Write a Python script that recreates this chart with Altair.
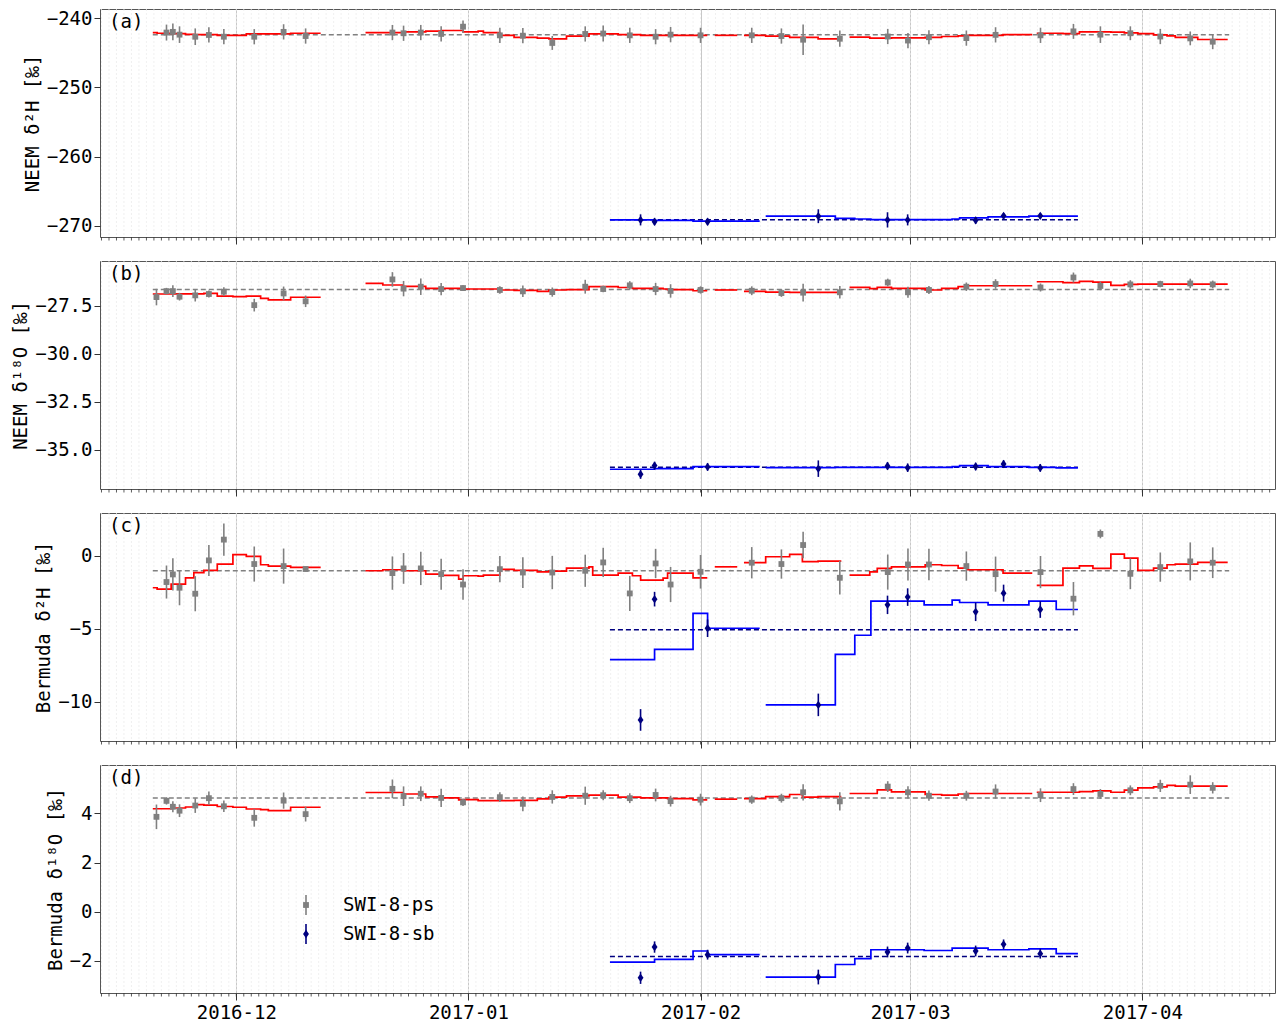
import altair as alt
import pandas as pd

FONT = "DejaVu Sans Mono"
BASE = pd.Timestamp("2016-12-01")          # day 0 of all day offsets below
PX_PER_DAY = 7.488
W, H = 1175, 228
X_RANGE = [-18.2, -18.2 + W / PX_PER_DAY]   # visible time range (days since BASE)
MONTH_TICKS = ["2016-12-01", "2017-01-01", "2017-02-01", "2017-03-01", "2017-04-01"]
MINOR_TICK_RANGE = ["2016-11-13", "2017-04-18"]

# ---------------- SWI-8-ps (grey squares) ----------------
PS_DAYS = [-10.66, -9.32, -8.47, -7.58, -5.48, -3.66, -1.66, 2.4, 6.32, 9.26,
           20.85, 22.34, 24.64, 27.36, 30.28, 35.2, 38.27, 42.2, 46.6, 49.0, 52.55, 56.0, 58.0, 62.0,
           68.84, 72.8, 75.7, 80.6, 87.0, 89.7, 92.5, 97.5, 101.4, 107.4, 111.8, 115.4, 119.4, 123.4, 127.4, 130.4]
PS_A = [None, -242.1, -242.0, -242.4, -242.7, -242.45, -242.7, -242.7, -242.0, -242.6,
        -242.1, -242.2, -242.1, -242.3, -241.25, -242.5, -242.55, -243.6, -242.3, -242.24, -242.5, -242.7, -242.4, -242.5,
        -242.5, -242.6, -243.13, -242.99, -242.67, -243.25, -242.77, -242.9, -242.43, -242.5, -241.93, -242.4, -242.2, -242.67, -242.94, -243.42]
PS_A_ERR = [None, 1.15, 1.2, 1.2, 1.2, 1.1, 1.1, 1.1, 1.1, 1.1,
            1.1, 1.1, 1.1, 1.1, 0.9, 1.1, 1.1, 1.0, 1.1, 1.15, 1.1, 1.1, 1.1, 1.1,
            1.1, 1.1, 2.2, 1.17, 1.1, 1.1, 1.0, 1.1, 1.1, 1.1, 1.08, 1.2, 1.0, 1.1, 1.0, 1.08]
PS_B = [-27.05, -26.74, -26.74, -27.03, -26.96, -26.89, -26.77, -27.47, -26.86, -27.27,
        -26.13, -26.61, -26.51, -26.63, -26.58, -26.68, -26.75, -26.79, -26.51, -26.63, -26.44, -26.63, -26.73, -26.68,
        -26.72, -26.84, -26.82, -26.8, -26.29, -26.8, -26.68, -26.51, -26.37, -26.55, -26.03, -26.47, -26.39, -26.37, -26.34, -26.39]
PS_B_ERR = [0.43, 0.17, 0.3, 0.2, 0.32, 0.18, 0.23, 0.33, 0.36, 0.3,
            0.38, 0.4, 0.43, 0.32, 0.15, 0.19, 0.3, 0.24, 0.36, 0.17, 0.22, 0.32, 0.35, 0.19,
            0.23, 0.2, 0.46, 0.33, 0.2, 0.29, 0.21, 0.22, 0.25, 0.21, 0.26, 0.22, 0.22, 0.17, 0.25, 0.2]
PS_C = [None, -1.80, -1.28, -2.19, -2.60, -0.32, 1.10, -0.57, -0.71, -0.91,
        -1.19, -0.87, -0.87, -1.26, -1.97, -0.92, -1.15, -1.15, -1.03, -0.46, -2.58, -0.53, -1.97, -1.10,
        -0.48, -0.57, 0.73, -1.51, -1.12, -0.60, -0.60, -0.71, -1.26, -1.12, -2.94, 1.49, -1.24, -0.78, -0.39, -0.48]
PS_C_ERR = [None, 1.13, 1.1, 1.2, 1.2, 1.06, 1.1, 1.2, 1.2, 0.1,
            1.14, 1.05, 1.14, 1.06, 1.05, 0.9, 1.05, 1.14, 1.1, 1.0, 1.2, 1.0, 1.2, 1.15,
            1.07, 1.0, 0.9, 1.14, 1.2, 1.1, 1.07, 1.0, 1.2, 1.1, 1.14, 0.3, 1.05, 1.0, 1.3, 1.05]
PS_D = [3.86, 4.51, 4.27, 4.11, 4.32, 4.62, 4.29, 3.82, 4.52, 3.97,
        5.0, 4.7, 4.8, 4.63, 4.45, 4.66, 4.39, 4.67, 4.72, 4.74, 4.62, 4.75, 4.5, 4.56,
        4.56, 4.62, 4.86, 4.49, 5.09, 4.86, 4.72, 4.72, 4.89, 4.74, 4.99, 4.79, 4.94, 5.12, 5.17, 5.04]
PS_D_ERR = [0.5, 0.15, 0.22, 0.26, 0.3, 0.27, 0.23, 0.36, 0.33, 0.3,
            0.38, 0.4, 0.3, 0.37, 0.15, 0.2, 0.3, 0.27, 0.37, 0.2, 0.2, 0.26, 0.22, 0.24,
            0.17, 0.18, 0.33, 0.37, 0.22, 0.25, 0.21, 0.2, 0.29, 0.28, 0.24, 0.2, 0.2, 0.25, 0.38, 0.23]

# ---------------- SWI-8-sb (navy diamonds) ----------------
SB_DAYS = [53.99, 55.86, 62.94, 77.73, 86.97, 89.66, 98.74, 102.47, 107.37]
SB_A = [-269.13, -269.4, -269.4, -268.6, -269.13, -269.13, -269.2, -268.55, -268.55]
SB_A_ERR = [0.8, 0.5, 0.5, 1.0, 1.1, 0.8, 0.5, 0.4, 0.4]
SB_B = [-36.28, -35.83, -35.9, -35.99, -35.85, -35.94, -35.88, -35.75, -35.95]
SB_B_ERR = [0.24, 0.2, 0.2, 0.43, 0.2, 0.22, 0.2, 0.2, 0.2]
SB_C = [-11.23, -2.97, -4.96, -10.2, -3.36, -2.83, -3.84, -2.56, -3.68]
SB_C_ERR = [0.74, 0.5, 0.6, 0.77, 0.63, 0.6, 0.63, 0.58, 0.57]
SB_D = [-2.69, -1.44, -1.75, -2.66, -1.64, -1.48, -1.6, -1.33, -1.71]
SB_D_ERR = [0.25, 0.23, 0.2, 0.3, 0.22, 0.22, 0.22, 0.2, 0.2]

# ---------------- red step line (ps model) ----------------
RED_STARTS = [
    [-11.15, -10.57, -8.7, -6.78, -5.67, -4.33, -2.54, -0.45, 1.34, 3.25, 4.28, 7.26],
    [17.26, 19.57, 22.3, 25.3, 27.4, 29.7, 30.3, 32.3, 33.0, 35.2, 37.1, 40.2, 41.75, 44.1, 47.1, 47.6, 51.0, 52.9, 54.0, 57.0, 57.6, 61.0],
    [63.9],
    [67.8, 70.7, 73.9, 75.6, 77.7],
    [81.9, 84.6, 85.6, 87.5, 92.0, 94.2, 96.4, 97.6, 102.4],
    [106.9, 110.4, 112.6, 114.4, 116.8, 118.6, 120.4, 122.5, 124.3, 125.4, 128.4],
]
RED_ENDS = [11.27, 62.9, 66.9, 80.8, 106.3, 132.4]
RED_A = [
    [-242.1, -242.2, -242.25, -242.35, -242.4, -242.4, -242.5, -242.5, -242.3, -242.3, -242.3, -242.2],
    [-242.1, -242.1, -242.0, -241.9, -241.8, -241.8, -242.0, -241.9, -242.1, -242.5, -242.8, -242.9, -243.0, -242.6, -242.3, -242.3, -242.4, -242.4, -242.5, -242.5, -242.5, -242.5],
    [-242.5],
    [-242.5, -242.6, -242.8, -242.8, -243.0],
    [-242.77, -242.9, -242.9, -242.86, -242.8, -242.67, -242.57, -242.5, -242.4],
    [-242.2, -242.24, -242.0, -242.0, -242.04, -242.14, -242.24, -242.43, -242.57, -242.8, -243.1],
]
RED_B = [
    [-26.89, -26.89, -26.88, -26.88, -26.88, -26.86, -27.0, -27.03, -27.0, -27.12, -27.2, -27.06],
    [-26.34, -26.42, -26.49, -26.6, -26.6, -26.6, -26.63, -26.63, -26.63, -26.68, -26.7, -26.75, -26.68, -26.66, -26.51, -26.51, -26.55, -26.6, -26.6, -26.63, -26.66, -26.72],
    [-26.68],
    [-26.75, -26.79, -26.8, -26.8, -26.8],
    [-26.54, -26.61, -26.54, -26.6, -26.68, -26.6, -26.51, -26.46, -26.46],
    [-26.25, -26.3, -26.23, -26.27, -26.44, -26.39, -26.37, -26.37, -26.37, -26.37, -26.37],
]
RED_C = [
    [-2.19, -2.28, -1.94, -1.51, -1.16, -1.0, -0.57, 0.07, -0.05, -0.62, -0.71, -0.8],
    [-1.03, -0.96, -1.03, -1.26, -1.35, -1.6, -1.37, -1.4, -1.33, -0.94, -1.0, -1.1, -1.05, -0.85, -0.76, -1.33, -1.19, -1.37, -1.67, -1.53, -1.19, -1.51],
    [-0.76],
    [-0.48, -0.07, 0.09, -0.41, -0.37],
    [-1.33, -1.1, -0.87, -0.76, -0.62, -0.67, -0.85, -0.96, -1.19],
    [-2.03, -0.85, -0.69, -0.87, 0.11, -0.16, -1.0, -0.85, -0.62, -0.58, -0.46],
]
RED_D = [
    [4.19, 4.19, 4.22, 4.26, 4.36, 4.34, 4.28, 4.25, 4.18, 4.15, 4.11, 4.25],
    [4.85, 4.85, 4.79, 4.67, 4.63, 4.55, 4.56, 4.52, 4.52, 4.52, 4.53, 4.59, 4.66, 4.71, 4.74, 4.74, 4.66, 4.66, 4.63, 4.63, 4.6, 4.55],
    [4.58],
    [4.6, 4.68, 4.77, 4.66, 4.68],
    [4.81, 4.81, 4.96, 4.88, 4.77, 4.74, 4.79, 4.81, 4.81],
    [4.86, 4.86, 4.89, 4.92, 4.86, 4.95, 5.04, 5.08, 5.14, 5.11, 5.11],
]

# ---------------- blue step line (sb model) ----------------
BLUE_STARTS = [
    [49.9, 55.86, 61.0, 62.94],
    [70.7, 80.0, 82.6, 84.75, 91.86, 95.6, 96.6, 100.4, 105.85, 109.5],
]
BLUE_ENDS = [69.9, 112.4]
BLUE_A = [[-269.13, -269.2, -269.3, -269.3],
          [-268.6, -268.9, -269.0, -269.1, -269.1, -269.0, -268.85, -268.7, -268.6, -268.6]]
BLUE_B = [[-36.02, -35.99, -35.88, -35.88],
          [-35.94, -35.92, -35.92, -35.92, -35.92, -35.88, -35.83, -35.88, -35.92, -35.95]]
BLUE_C = [[-7.10, -6.40, -3.95, -4.96],
          [-10.2, -6.74, -5.44, -3.11, -3.36, -3.04, -3.2, -3.36, -3.11, -3.68]]
BLUE_D = [[-2.05, -1.94, -1.6, -1.75],
          [-2.66, -2.15, -1.91, -1.55, -1.58, -1.48, -1.48, -1.55, -1.51, -1.71]]

# ---------------- mean lines ----------------
PS_MEAN_RANGE = [-11.15, 132.6]
SB_MEAN_RANGE = [49.9, 112.4]
PS_MEAN = {"a": -242.43, "b": -26.65, "c": -1.03, "d": 4.63}
SB_MEAN = {"a": -269.1, "b": -35.92, "c": -5.07, "d": -1.82}

PANELS = {
    "a": dict(title="NEEM δ²H [‰]", domain=[-271.6, -238.7], ticks=[-270, -260, -250, -240], fmt="d", tag="(a)"),
    "b": dict(title="NEEM δ¹⁸O [‰]", domain=[-37.05, -25.17], ticks=[-35, -32.5, -30, -27.5], fmt=".1f", tag="(b)"),
    "c": dict(title="Bermuda δ²H [‰]", domain=[-12.67, 2.92], ticks=[-10, -5, 0], fmt="d", tag="(c)"),
    "d": dict(title="Bermuda δ¹⁸O [‰]", domain=[-3.31, 5.97], ticks=[-2, 0, 2, 4], fmt="d", tag="(d)"),
}
PS_VALS = {"a": (PS_A, PS_A_ERR), "b": (PS_B, PS_B_ERR), "c": (PS_C, PS_C_ERR), "d": (PS_D, PS_D_ERR)}
SB_VALS = {"a": (SB_A, SB_A_ERR), "b": (SB_B, SB_B_ERR), "c": (SB_C, SB_C_ERR), "d": (SB_D, SB_D_ERR)}
RED_VALS = {"a": RED_A, "b": RED_B, "c": RED_C, "d": RED_D}
BLUE_VALS = {"a": BLUE_A, "b": BLUE_B, "c": BLUE_C, "d": BLUE_D}
LEGEND_LABELS = ["SWI-8-ps", "SWI-8-sb"]

GREY = "#808080"
NAVY = "#000080"
DIAMOND = "M0,-1L0.7,0L0,1L-0.7,0Z"


def to_time(days):
    return BASE + pd.to_timedelta(pd.Series(days, dtype=float), unit="D")


def to_dt(ts):
    ts = pd.Timestamp(ts)
    return alt.DateTime(year=ts.year, month=ts.month, date=ts.day, hours=ts.hour, minutes=ts.minute)


def step_frame(starts, ends, values):
    rows = []
    for k, (st, en, vals) in enumerate(zip(starts, ends, values)):
        for s, v in zip(st, vals):
            rows.append((s, v, k))
        rows.append((en, vals[-1], k))
    df = pd.DataFrame(rows, columns=["d", "v", "seg"])
    df["t"] = to_time(df["d"]).values
    return df


x_start = BASE + pd.Timedelta(days=X_RANGE[0])
x_end = BASE + pd.Timedelta(days=X_RANGE[1])
XSCALE = alt.Scale(domain=[to_dt(x_start), to_dt(x_end)])
minor_days = pd.DataFrame({"t": pd.date_range(MINOR_TICK_RANGE[0], MINOR_TICK_RANGE[1], freq="D")})


def make_panel(key, show_labels, with_legend):
    cfg = PANELS[key]
    xaxis = alt.Axis(values=[to_dt(m) for m in MONTH_TICKS], format="%Y-%m", labels=show_labels,
                     grid=True, gridColor="#c8c8c8", gridWidth=1, tickSize=7, tickColor="#333333",
                     domain=False, labelFontSize=19, labelPadding=3, labelColor="black", title=None)
    yaxis = alt.Axis(values=cfg["ticks"], format=cfg["fmt"], title=cfg["title"], grid=False,
                     tickSize=6, tickColor="#333333", domain=False, labelFontSize=19, labelPadding=2,
                     titleFontSize=19, titleFontWeight="normal", titlePadding=4, labelColor="black",
                     titleColor="black")
    yscale = alt.Scale(domain=cfg["domain"], nice=False, zero=False)

    def X(f="t"):
        return alt.X(f"{f}:T", scale=XSCALE, axis=xaxis, title=None)

    def Y(f):
        return alt.Y(f"{f}:Q", scale=yscale, axis=yaxis, title=cfg["title"])

    vals, errs = PS_VALS[key]
    ps = pd.DataFrame({"t": to_time(PS_DAYS).values, "v": vals, "e": errs}).dropna()
    ps["lo"] = ps["v"] - ps["e"]
    ps["hi"] = ps["v"] + ps["e"]
    svals, serrs = SB_VALS[key]
    sb = pd.DataFrame({"t": to_time(SB_DAYS).values, "v": svals, "e": serrs})
    sb["lo"] = sb["v"] - sb["e"]
    sb["hi"] = sb["v"] + sb["e"]
    red = step_frame(RED_STARTS, RED_ENDS, RED_VALS[key])
    blue = step_frame(BLUE_STARTS, BLUE_ENDS, BLUE_VALS[key])
    means = pd.DataFrame({
        "t": to_time([PS_MEAN_RANGE[0], SB_MEAN_RANGE[0]]).values,
        "t1": to_time([PS_MEAN_RANGE[1], SB_MEAN_RANGE[1]]).values,
        "v": [PS_MEAN[key], SB_MEAN[key]],
        "kind": ["ps", "sb"],
    })

    layers = [
        alt.Chart(minor_days).mark_rule(color="#ececec", strokeWidth=0.8, strokeDash=[2, 2]).encode(x=X()),
        alt.Chart(minor_days).mark_rule(color="#333333", strokeWidth=0.8).encode(
            x=X(), y=alt.value(H), y2=alt.value(H + 3.5)),
        alt.Chart(means[means.kind == "ps"]).mark_rule(color=GREY, strokeWidth=1.5, strokeDash=[5, 3]).encode(
            x=X(), x2="t1:T", y=Y("v")),
        alt.Chart(means[means.kind == "sb"]).mark_rule(color=NAVY, strokeWidth=1.5, strokeDash=[5, 3]).encode(
            x=X(), x2="t1:T", y=Y("v")),
        alt.Chart(red).mark_line(interpolate="step-after", color="#ff0000", strokeWidth=1.7).encode(
            x=X(), y=Y("v"), detail="seg:N"),
        alt.Chart(blue).mark_line(interpolate="step-after", color="#0000ff", strokeWidth=1.7).encode(
            x=X(), y=Y("v"), detail="seg:N"),
        alt.Chart(ps).mark_rule(color=GREY, strokeWidth=1.6).encode(x=X(), y=Y("lo"), y2="hi:Q"),
        alt.Chart(ps).mark_square(color=GREY, size=34, opacity=1).encode(x=X(), y=Y("v")),
        alt.Chart(sb).mark_rule(color=NAVY, strokeWidth=1.6).encode(x=X(), y=Y("lo"), y2="hi:Q"),
        alt.Chart(sb).mark_point(shape=DIAMOND, filled=True, color=NAVY, size=70,
                                 opacity=1).encode(x=X(), y=Y("v")),
        alt.Chart(pd.DataFrame({"label": [cfg["tag"]]})).mark_text(
            align="left", baseline="middle", fontSize=19, font=FONT, color="black").encode(
            x=alt.value(9), y=alt.value(13), text="label:N"),
    ]
    if with_legend:
        lx, tx = 206, 243
        ys = [140, 169]
        ldf = pd.DataFrame({"label": LEGEND_LABELS})
        layers += [
            alt.Chart(ldf.iloc[[0]]).mark_rule(color=GREY, strokeWidth=1.6).encode(
                x=alt.value(lx), y=alt.value(ys[0] - 10), y2=alt.value(ys[0] + 10)),
            alt.Chart(ldf.iloc[[0]]).mark_square(color=GREY, size=34, opacity=1).encode(
                x=alt.value(lx), y=alt.value(ys[0])),
            alt.Chart(ldf.iloc[[1]]).mark_rule(color=NAVY, strokeWidth=1.6).encode(
                x=alt.value(lx), y=alt.value(ys[1] - 10), y2=alt.value(ys[1] + 10)),
            alt.Chart(ldf.iloc[[1]]).mark_point(shape=DIAMOND, filled=True, color=NAVY,
                                                size=70, opacity=1).encode(x=alt.value(lx), y=alt.value(ys[1])),
            alt.Chart(ldf.iloc[[0]]).mark_text(align="left", baseline="middle", fontSize=19, font=FONT,
                                               color="black").encode(
                x=alt.value(tx), y=alt.value(ys[0]), text="label:N"),
            alt.Chart(ldf.iloc[[1]]).mark_text(align="left", baseline="middle", fontSize=19, font=FONT,
                                               color="black").encode(
                x=alt.value(tx), y=alt.value(ys[1]), text="label:N"),
        ]
    return alt.layer(*layers).properties(width=W, height=H)


panels = [make_panel("a", False, False), make_panel("b", False, False),
          make_panel("c", False, False), make_panel("d", True, True)]

chart = alt.vconcat(*panels, spacing=15).properties(
    padding={"left": 3, "top": 0, "right": 0, "bottom": 5}
).configure_view(stroke="#555555", strokeWidth=1).configure_axis(
    labelFont=FONT, titleFont=FONT
).configure_text(font=FONT)

chart.save("out.html", embed_options={"renderer": "svg", "actions": False})
